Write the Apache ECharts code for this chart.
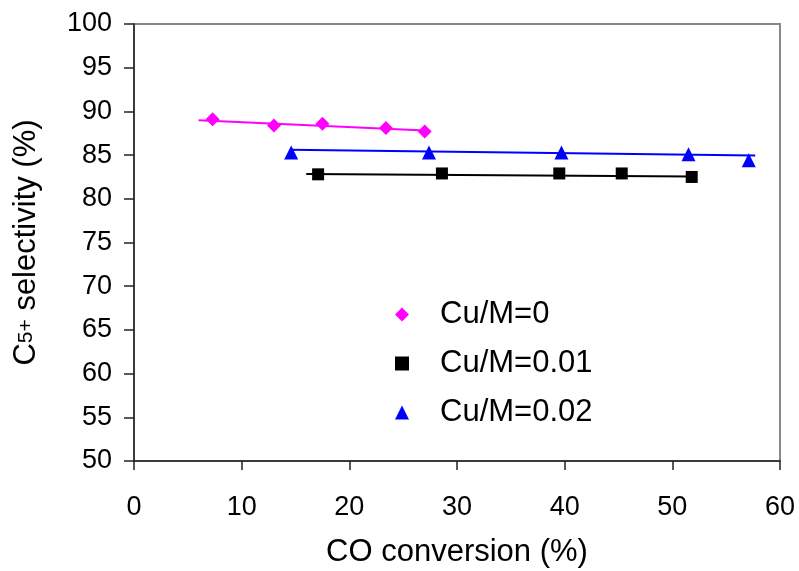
<!DOCTYPE html>
<html>
<head>
<meta charset="utf-8">
<script src="https://cdn.jsdelivr.net/npm/echarts@6/dist/echarts.min.js"></script>
<style>
  html, body { margin: 0; padding: 0; background: #fff; }
  #chart { width: 799px; height: 571px; }
</style>
</head>
<body>
<div id="chart"></div>
<script>
// measured points, [CO conversion %, C5+ selectivity %]
var cu0 = [[7.3, 89.1], [13.0, 88.4], [17.5, 88.6], [23.4, 88.1], [27.0, 87.7]];
var cu001 = [[17.1, 82.8], [28.6, 82.9], [39.5, 82.9], [45.3, 82.9], [51.8, 82.5]];
var cu002 = [[14.6, 85.3], [27.4, 85.3], [39.7, 85.3], [51.5, 85.1], [57.1, 84.4]];
// trend lines
var trend0 = [[6.0, 89.0], [27.5, 87.8]];
var trend001 = [[16.0, 82.85], [51.8, 82.55]];
var trend002 = [[14.5, 85.6], [57.7, 84.95]];

var names = ['Cu/M=0', 'Cu/M=0.01', 'Cu/M=0.02'];
var colors = ['#ff00ff', '#000000', '#0000ff'];
var fontName = 'Liberation Sans, Arial, sans-serif';

var chart = echarts.init(document.getElementById('chart'));

function trendSeries(data, color) {
    return {
        type: 'line',
        data: data,
        symbol: 'none',
        silent: true,
        lineStyle: { color: color, width: 2 },
        z: 1
    };
}

var option = {
    backgroundColor: '#fff',
    animation: false,
    grid: {
        left: 134,
        right: 19,
        top: 24,
        bottom: 110,
        outerBoundsMode: 'none',
        show: true,
        borderColor: '#888',
        borderWidth: 2
    },
    legend: {
        data: names,
        orient: 'vertical',
        left: 390,
        top: 294,
        itemWidth: 14,
        itemHeight: 14,
        itemGap: 18,
        textStyle: { fontFamily: fontName, fontSize: 31, color: '#000', padding: [0, 0, 0, 26] }
    },
    xAxis: {
        type: 'value',
        min: 0,
        max: 60,
        interval: 10,
        name: 'CO conversion (%)',
        nameLocation: 'middle',
        nameGap: 76,
        nameTextStyle: { fontFamily: fontName, fontSize: 31, color: '#000' },
        splitLine: { show: false },
        axisLine: { onZero: false, lineStyle: { color: '#222', width: 1.5 } },
        axisTick: { length: 9, lineStyle: { color: '#222', width: 1.5 } },
        axisLabel: { margin: 33, fontFamily: fontName, fontSize: 27, color: '#000' }
    },
    yAxis: {
        type: 'value',
        min: 50,
        max: 100,
        interval: 5,
        name: '{a|C}{b|5+}{a| selectivity (%)}',
        nameLocation: 'middle',
        nameGap: 92,
        nameTextStyle: {
            rich: {
                a: { fontFamily: fontName, fontSize: 31, color: '#000' },
                b: { fontFamily: fontName, fontSize: 21, color: '#000' }
            }
        },
        splitLine: { show: false },
        axisLine: { onZero: false, lineStyle: { color: '#222', width: 1.5 } },
        axisTick: { length: 10, lineStyle: { color: '#222', width: 1.5 } },
        axisLabel: { margin: 22, fontFamily: fontName, fontSize: 27, color: '#000' }
    },
    series: [
        trendSeries(trend0, colors[0]),
        trendSeries(trend001, colors[1]),
        trendSeries(trend002, colors[2]),
        {
            name: names[0], type: 'scatter', data: cu0,
            symbol: 'diamond', symbolSize: 14,
            itemStyle: { color: colors[0], opacity: 1 }, z: 3
        },
        {
            name: names[1], type: 'scatter', data: cu001,
            symbol: 'rect', symbolSize: 12,
            itemStyle: { color: colors[1], opacity: 1 }, z: 3
        },
        {
            name: names[2], type: 'scatter', data: cu002,
            symbol: 'triangle', symbolSize: 14,
            itemStyle: { color: colors[2], opacity: 1 }, z: 3
        }
    ]
};

chart.setOption(option);
</script>
</body>
</html>
